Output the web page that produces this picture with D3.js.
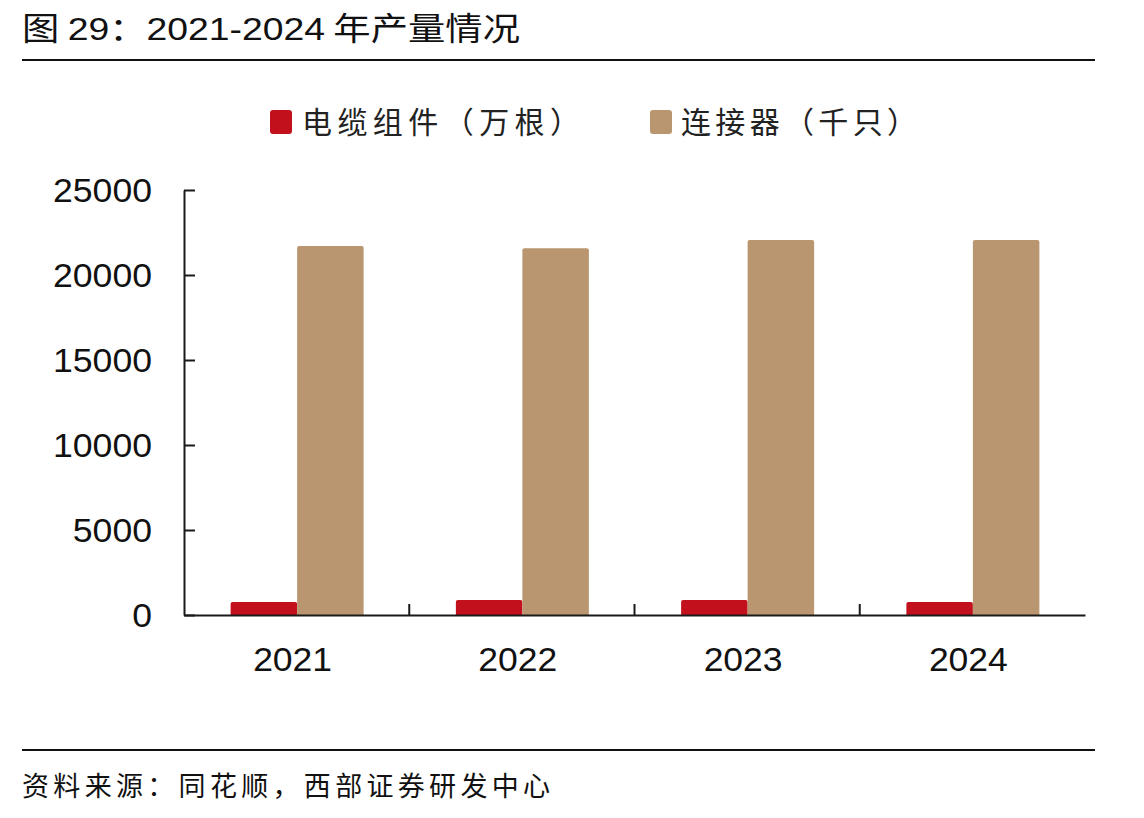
<!DOCTYPE html>
<html><head><meta charset="utf-8">
<script src="https://cdn.jsdelivr.net/npm/d3@7"></script>
<style>
html,body{margin:0;padding:0;background:#fff;}
svg{display:block;}
</style></head>
<body><svg id="c" width="1144" height="818"></svg>
<script>
const categories = ["2021","2022","2023","2024"];
const seriesNames = ["电缆组件（万根）","连接器（千只）"];
const cableValues = [765, 880, 880, 765];
const connectorValues = [21700, 21570, 22060, 22060];
const yTicks = [0,5000,10000,15000,20000,25000];
const colors = ["#C2111C","#B9966F"];
const titleText = "图 29：2021-2024 年产量情况";
const sourceText = "资料来源：同花顺，西部证券研发中心";

const svg = d3.select("#c");
const cjk = "'Noto Sans CJK SC', sans-serif";
const latin = "'Liberation Sans', Arial, sans-serif";

// title
const t = svg.append("text").attr("x",22).attr("y",40).attr("fill","#111")
  .style("font-size","32px").style("font-family",cjk)
  .attr("textLength",498).attr("lengthAdjust","spacingAndGlyphs");
t.append("tspan").text("图 ");
t.append("tspan").style("font-family",latin).text("29");
t.append("tspan").text("：");
t.append("tspan").style("font-family",latin).text("2021-2024");
t.append("tspan").text(" 年产量情况");

svg.append("line").attr("x1",22).attr("x2",1095).attr("y1",60).attr("y2",60).attr("stroke","#111").attr("stroke-width",2);
svg.append("line").attr("x1",22).attr("x2",1095).attr("y1",750).attr("y2",750).attr("stroke","#111").attr("stroke-width",2);

svg.append("text").attr("x",22).attr("y",796).attr("fill","#111")
  .style("font-size","27px").style("font-family",cjk)
  .attr("textLength",528).attr("lengthAdjust","spacing").text(sourceText);

// scales
const x = d3.scaleBand().domain(categories).range([184,1085]).paddingInner(0).paddingOuter(0);
const bw = x.bandwidth();
const xs = d3.scaleBand().domain(seriesNames).range([bw/2-66, bw/2+67]).padding(0);
const y = d3.scaleLinear().domain([0,25000]).range([615,190]);

// bars
const data = categories.map((c,i)=>({cat:c, vals:[cableValues[i], connectorValues[i]]}));
const g = svg.append("g");
data.forEach(d=>{
  d.vals.forEach((v,j)=>{
    const x0 = x(d.cat)+xs(seriesNames[j]);
    const w = xs.bandwidth();
    const top = y(v), bot = y(0), r = 2;
    g.append("path")
      .attr("d",`M${x0},${bot}V${top+r}Q${x0},${top} ${x0+r},${top}H${x0+w-r}Q${x0+w},${top} ${x0+w},${top+r}V${bot}Z`)
      .attr("fill",colors[j]);
  });
});

// y axis
const ya = svg.append("g").attr("transform","translate(184,0)")
  .call(d3.axisLeft(y).tickValues(yTicks).tickFormat(d3.format("d")).tickSizeInner(-11).tickSizeOuter(0).tickPadding(32));
ya.select(".domain").attr("stroke","#1a1a1a").attr("stroke-width",2);
ya.selectAll(".tick line").attr("stroke","#1a1a1a").attr("stroke-width",2);
ya.selectAll(".tick text").attr("fill","#111").style("font-size","33px").style("font-family",latin).attr("dy","0.36em")
  .attr("textLength",d=>String(d).length*19.8).attr("lengthAdjust","spacingAndGlyphs");

// x axis
const xa = svg.append("g").attr("transform","translate(0,615)")
  .call(d3.axisBottom(x).tickSize(0).tickPadding(33));
xa.select(".domain").attr("stroke","#1a1a1a").attr("stroke-width",2);
xa.selectAll(".tick text").attr("fill","#111").style("font-size","33px").style("font-family",latin).attr("dy","0.71em")
  .attr("x",-4).attr("textLength",79).attr("lengthAdjust","spacingAndGlyphs");
xa.selectAll(".sep").data(categories.slice(1)).enter().append("line")
  .attr("class","sep").attr("x1",d=>x(d)).attr("x2",d=>x(d)).attr("y1",0).attr("y2",-11)
  .attr("stroke","#1a1a1a").attr("stroke-width",2);

// legend
const lg = svg.append("g");
const legendPos = [{sx:270, tx:302, len:278},{sx:650, tx:681, len:236}];
seriesNames.forEach((n,i)=>{
  lg.append("rect").attr("x",legendPos[i].sx).attr("y",110).attr("width",22).attr("height",24).attr("rx",3).attr("fill",colors[i]);
  lg.append("text").attr("x",legendPos[i].tx).attr("y",133).attr("fill","#222")
    .style("font-size","30px").style("font-family",cjk)
    .attr("textLength",legendPos[i].len).attr("lengthAdjust","spacing").text(n);
});
</script></body></html>
